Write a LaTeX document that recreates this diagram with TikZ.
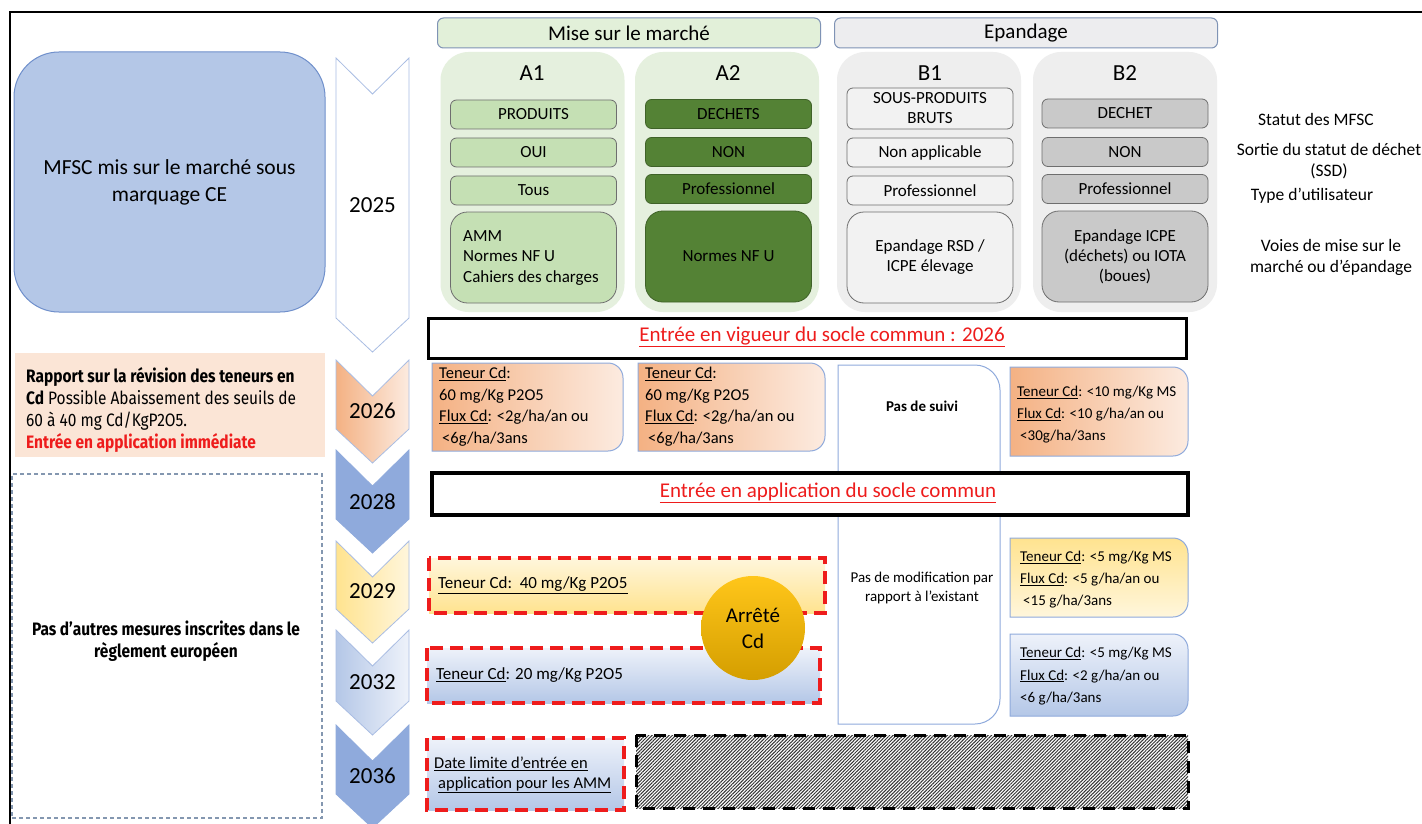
\documentclass[tikz,border=0pt]{standalone}
\usepackage{fontspec}
\setmainfont{Carlito}
\newfontfamily\fira[FakeStretch=0.86]{Fira Sans}
\usetikzlibrary{patterns.meta}
\definecolor{mfsc}{HTML}{B4C7E7}
\definecolor{mfscline}{HTML}{6F8FCB}
\definecolor{peach}{HTML}{FBE5D6}
\definecolor{peachL}{HTML}{FCEBE0}
\definecolor{orangeL}{HTML}{F4B183}
\definecolor{dashblue}{HTML}{8497B0}
\definecolor{chevline}{HTML}{A9BDE3}
\definecolor{blueM}{HTML}{8FAADC}
\definecolor{blueXL}{HTML}{EEF2FA}
\definecolor{yelL}{HTML}{FFE38F}
\definecolor{yelXL}{HTML}{FFF6DC}
\definecolor{greenL}{HTML}{E2F0D9}
\definecolor{greenC}{HTML}{E5F0DE}
\definecolor{greenM}{HTML}{C5E0B4}
\definecolor{greenD}{HTML}{548235}
\definecolor{greenDL}{HTML}{3F6228}
\definecolor{grayL}{HTML}{EDEDEF}
\definecolor{grayC}{HTML}{EEEEEE}
\definecolor{grayXL}{HTML}{F2F2F2}
\definecolor{grayM}{HTML}{C9C9C9}
\definecolor{hdrline}{HTML}{7F93B5}
\definecolor{boxline}{HTML}{6E6E6E}
\definecolor{redT}{HTML}{EE1C1C}
\definecolor{goldT}{HTML}{FFC61A}
\definecolor{goldD}{HTML}{D49E00}
\newcommand\fs[2]{\fontsize{#1}{#2}\selectfont}
% half-rounded box: left corners square, right corners rounded
\newcommand\rrshape[6]{%
  \path[#1] (#2,#3) -- ({#4-#6},#3) .. controls ({#4-0.448*#6},#3) and (#4,{#3+0.448*#6}) .. (#4,{#3+#6})
  -- (#4,{#5-#6}) .. controls (#4,{#5-0.448*#6}) and ({#4-0.448*#6},#5) .. ({#4-#6},#5) -- (#2,#5) -- cycle;}
% chevron: top y, tip y, style
\newcommand\chev[3]{%
  \path[#3] (336,#1) -- (372.5,{#1+36}) -- (409,#1) -- (409,{#2-34}) -- (372.5,#2) -- (336,{#2-34}) -- cycle;}
\tikzset{
  every node/.style={inner sep=0pt},
  hdr/.style={draw=hdrline, line width=1pt, rounded corners=6pt, minimum width=383pt, minimum height=30pt, font=\fs{21}{25}},
  contbox/.style={rounded corners=28pt, minimum width=184pt, minimum height=260pt},
  collbl/.style={font=\fs{23}{27}},
  ibox/.style={draw=boxline, line width=0.8pt, rounded corners=6pt, minimum width=166pt, minimum height=29pt, font=\fs{17}{20}, align=center},
  ibig/.style={ibox, rounded corners=17pt, minimum height=91pt},
  year/.style={font=\fs{23}{26}},
  rlbl/.style={font=\fs{17.5}{21}, align=center},
  cdtxt/.style={anchor=north west, align=left, font=\fs{15}{22}},
  firaline/.style={anchor=base west, font=\fira\fs{18}{22}},
  blackbox/.style={draw=black, fill=white, line width=3.5pt},
  redtitle/.style={text=redT, font=\fs{21}{25}},
  reddash/.style={draw=redT, line width=3.5pt, dash pattern=on 13pt off 7pt},
  chevl/.style={draw=chevline, line width=0.8pt},
  halfbox/.style={draw=blueM, line width=1pt}
}
\begin{document}
\begin{tikzpicture}[x=1pt,y=-1pt]
\useasboundingbox (0,0) rectangle (1422,824);
\fill[white] (0,0) rectangle (1422,824);
% frame
\draw[line width=2pt] (10,826) -- (10,12) -- (1424,12);

% ---------- left column ----------
\node[draw=mfscline, line width=1pt, fill=mfsc, rounded corners=45pt, minimum width=311pt, minimum height=260pt,
      font=\fs{21.5}{27}, align=center] (mfscbox) at (169.5,182) {MFSC mis sur le marché sous\\marquage CE};
\node[fill=peach, minimum width=310pt, minimum height=104pt] (rapbox) at (169.5,405) {};
\node[firaline] (rap1) at (26,382) {\bfseries Rapport sur la révision des teneurs en};
\node[firaline] (rap2) at (26,404) {\textbf{Cd} Possible Abaissement des seuils de};
\node[firaline] (rap3) at (26,426) {60 à 40 mg Cd/KgP2O5.};
\node[firaline, text=redT] (rap4) at (26,448) {\bfseries Entrée en application immédiate};
\node[draw=dashblue, line width=1.2pt, dash pattern=on 4pt off 3pt, minimum width=310pt, minimum height=344pt] (pasbox) at (167,646) {};
\node[font=\fira\bfseries\fs{18}{22}, align=center] (pastxt) at (166,641) {Pas d’autres mesures inscrites dans le\\règlement européen};

% ---------- chevrons ----------
\chev{58}{352}{chevl, fill=white}
\chev{360}{463}{chevl, left color=orangeL, right color=peachL}
\chev{450}{553}{draw=blueM, line width=0.8pt, fill=blueM}
\chev{541}{643}{chevl, left color=yelL, right color=yelXL}
\chev{630}{735}{chevl, left color=mfsc, right color=blueXL}
\chev{725}{828}{draw=blueM, line width=0.8pt, fill=blueM}
\node[year] (y25) at (372.5,205) {2025};
\node[year] (y26) at (372.5,411) {2026};
\node[year] (y28) at (372.5,502) {2028};
\node[year] (y29) at (372.5,591) {2029};
\node[year] (y32) at (372.5,682) {2032};
\node[year] (y36) at (372.5,776) {2036};

% ---------- headers ----------
\node[hdr, fill=greenL] (mise) at (629,33) {Mise sur le marché};
\node[hdr, fill=grayL] (epand) at (1026,33) {Epandage};

% ---------- containers ----------
\node[contbox, fill=greenC] (ca1) at (532.5,182) {};
\node[contbox, fill=greenC] (ca2) at (727,182) {};
\node[contbox, fill=grayC] (cb1) at (929,182) {};
\node[contbox, fill=grayC] (cb2) at (1125,182) {};
\node[collbl] (la1) at (532,73) {A1};
\node[collbl] (la2) at (728,73) {A2};
\node[collbl] (lb1) at (930,73) {B1};
\node[collbl] (lb2) at (1125,73) {B2};

% A1
\node[ibox, fill=greenM] (a1s) at (533.5,114.5) {PRODUITS};
\node[ibox, fill=greenM] (a1o) at (533.5,152.5) {OUI};
\node[ibox, fill=greenM] (a1u) at (533.5,190.5) {Tous};
\node[ibig, fill=greenM] (a1v) at (533.5,257.5) {};
\node[anchor=west, align=left, font=\fs{17}{20.5}] (a1vt) at (463,258) {AMM\\Normes NF U\\Cahiers des charges};
% A2
\node[ibox, fill=greenD, draw=greenDL] (a2s) at (728.5,114) {DECHETS};
\node[ibox, fill=greenD, draw=greenDL] (a2o) at (728.5,152) {NON};
\node[ibox, fill=greenD, draw=greenDL] (a2u) at (728.5,189) {Professionnel};
\node[ibig, fill=greenD, draw=greenDL] (a2v) at (728.5,256.5) {Normes NF U};
% B1
\node[ibox, fill=grayXL, minimum height=41pt] (b1s) at (930,108.5) {SOUS-PRODUITS\\BRUTS};
\node[ibox, fill=grayXL] (b1o) at (930,152.5) {Non applicable};
\node[ibox, fill=grayXL] (b1u) at (930,190.5) {Professionnel};
\node[ibig, fill=grayXL] (b1v) at (930,257.5) {Epandage RSD /\\ICPE élevage};
% B2
\node[ibox, fill=grayM] (b2s) at (1125,113.5) {DECHET};
\node[ibox, fill=grayM] (b2o) at (1125,152) {NON};
\node[ibox, fill=grayM] (b2u) at (1125,189) {Professionnel};
\node[ibig, fill=grayM] (b2v) at (1125,256.5) {Epandage ICPE\\(déchets) ou IOTA\\(boues)};

% right labels
\node[rlbl] (r1) at (1316,119) {Statut des MFSC};
\node[rlbl] (r2) at (1329,161) {Sortie du statut de déchet\\(SSD)};
\node[rlbl] (r3) at (1312,196) {Type d’utilisateur};
\node[rlbl] (r4) at (1331,257) {Voies de mise sur le\\marché ou d’épandage};

% ---------- socle commun 2026 ----------
\node[blackbox, minimum width=758pt, minimum height=40pt] (vig) at (807.5,338.5) {};
\node[redtitle] (vigt) at (822,337) {\underline{Entrée en vigueur du socle commun : 2026}};

% 2026 row
\rrshape{halfbox, left color=orangeL, right color=peachL}{432}{363}{623}{451}{15}
\rrshape{halfbox, left color=orangeL, right color=peachL}{638}{363}{825}{451}{15}
\rrshape{halfbox, fill=white}{838}{365}{1000}{724}{25}
\rrshape{halfbox, left color=orangeL, right color=peachL}{1010}{367}{1188}{456}{15}
\node[cdtxt, font=\fs{16.5}{21.5}] (a1cd) at (439,367) {\underline{Teneur Cd}:\\60 mg/Kg P2O5\\\underline{Flux Cd}: <2g/ha/an ou\\\hspace{3pt}<6g/ha/3ans};
\node[cdtxt, font=\fs{16.5}{21.5}] (a2cd) at (645,367) {\underline{Teneur Cd}:\\60 mg/Kg P2O5\\\underline{Flux Cd}: <2g/ha/an ou\\\hspace{3pt}<6g/ha/3ans};
\node[font=\bfseries\fs{15}{18}] (suivi) at (922,406) {Pas de suivi};
\node[cdtxt] (b2cd26) at (1017,386) {\underline{Teneur Cd}: <10 mg/Kg MS\\\underline{Flux Cd}: <10 g/ha/an ou\\\hspace{3pt}<30g/ha/3ans};

% ---------- socle commun application ----------
\node[blackbox, minimum width=756pt, minimum height=42pt] (app) at (810,494) {};
\node[redtitle] (appt) at (828,493) {\underline{Entrée en application du socle commun}};

\node[font=\fs{15}{19.5}, align=center] (modif) at (922,588) {Pas de modification par\\rapport à l’existant};

% 2029 row
\path[reddash, top color=yelXL, bottom color=yelL] (429,558) rectangle (825,613);
\node[anchor=west, font=\fs{17}{20}] (t29) at (438,585) {\underline{Teneur Cd:\ \ 40 mg/Kg P2O5}};
\rrshape{halfbox, top color=yelL, bottom color=yelXL}{1010}{538}{1188}{617}{15}
\node[cdtxt] (b2cd29) at (1020,551) {\underline{Teneur Cd}: <5 mg/Kg MS\\\underline{Flux Cd}: <5 g/ha/an ou\\\hspace{3pt}<15 g/ha/3ans};

% 2032 row
\path[reddash, top color=blueXL, bottom color=mfsc] (427,648) rectangle (820,703);
\node[anchor=west, font=\fs{17}{20}] (t32) at (436,675) {\underline{Teneur Cd}: 20 mg/Kg P2O5};
\rrshape{halfbox, top color=blueXL, bottom color=mfsc}{1010}{634}{1188}{716}{15}
\node[cdtxt, font=\fs{15}{22.5}] (b2cd32) at (1020,647) {\underline{Teneur Cd}: <5 mg/Kg MS\\\underline{Flux Cd}: <2 g/ha/an ou\\<6 g/ha/3ans};

% Arrêté Cd
\node[circle, minimum size=104pt, top color=goldT, bottom color=goldD, font=\fs{21}{26}, align=center] (arrete) at (753,628) {Arrêté\\Cd};

% 2036 row
\path[reddash, top color=blueXL, bottom color=mfsc] (427,738) rectangle (624,810);
\node[anchor=west, align=left, font=\fs{16.5}{20}] (t36) at (434,775) {\underline{Date limite d’entrée en}\\\hspace{4pt}\underline{application pour les AMM}};
\path[pattern={Lines[angle=45,distance=2.4pt,line width=1pt]}, pattern color=black!80] (636,735) rectangle (1188,808);
\draw[line width=3pt, dash pattern=on 12pt off 8pt] (636,735) rectangle (1188,808);
\end{tikzpicture}
\end{document}
